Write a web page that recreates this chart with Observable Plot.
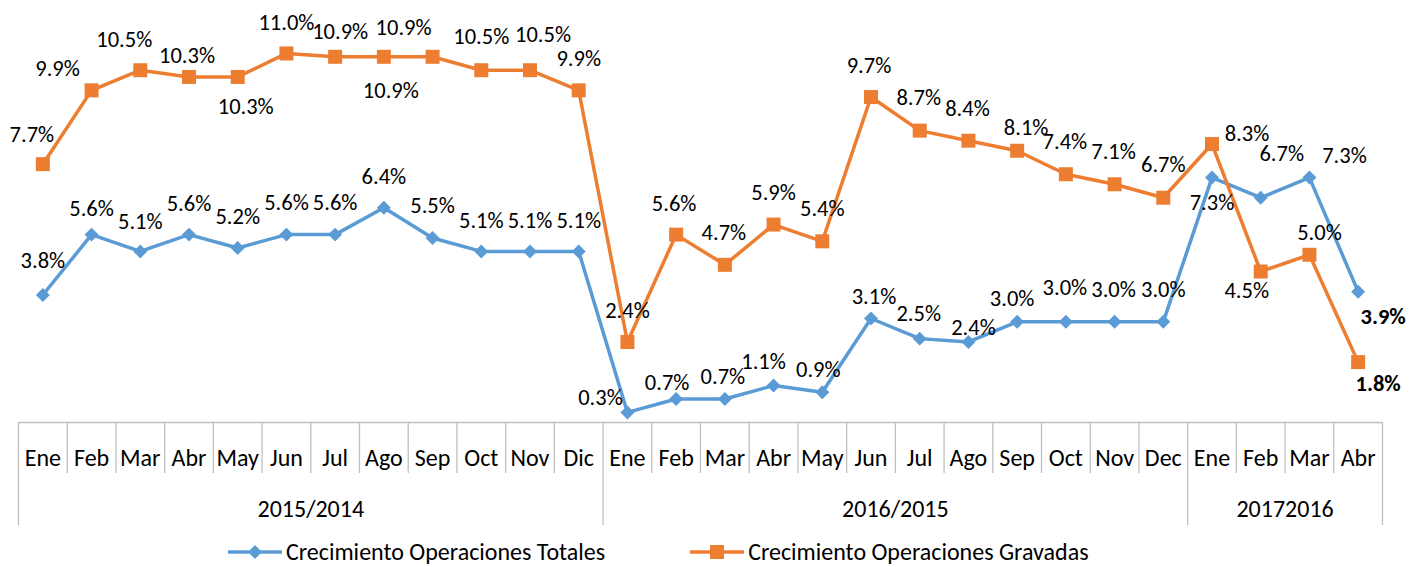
<!DOCTYPE html>
<html>
<head>
<meta charset="utf-8">
<script src="https://cdn.jsdelivr.net/npm/d3@7"></script>
<script src="https://cdn.jsdelivr.net/npm/@observablehq/plot@0.6"></script>
<style>
  html, body { margin: 0; padding: 0; background: #fff; }
  body { font-family: Carlito, Lato, sans-serif; color: #000; width: 1424px; height: 567px; overflow: hidden; }
  #legend { display: flex; align-items: center; height: 31px; padding-top: 6px; padding-left: 228px; font-size: 24px; }
  #legend .item { display: flex; align-items: center; }
  #legend .item svg { margin-right: 4px; }
  #legend .gap { width: 85px; }
</style>
</head>
<body>
<div id="chart"></div>
<div id="legend"></div>
<script>
// ---- data ----
const months = ["Ene","Feb","Mar","Abr","May","Jun","Jul","Ago","Sep","Oct","Nov","Dic",
                "Ene","Feb","Mar","Abr","May","Jun","Jul","Ago","Sep","Oct","Nov","Dec",
                "Ene","Feb","Mar","Abr"];
const groups = ["2015/2014", "2016/2015", "20172016"];
const groupSizes = [12, 12, 4];
const seriesNames = ["Crecimiento Operaciones Totales", "Crecimiento Operaciones Gravadas"];
const totales  = [3.8, 5.6, 5.1, 5.6, 5.2, 5.6, 5.6, 6.4, 5.5, 5.1, 5.1, 5.1,
                  0.3, 0.7, 0.7, 1.1, 0.9, 3.1, 2.5, 2.4, 3.0, 3.0, 3.0, 3.0,
                  7.3, 6.7, 7.3, 3.9];
const gravadas = [7.7, 9.9, 10.5, 10.3, 10.3, 11.0, 10.9, 10.9, 10.9, 10.5, 10.5, 9.9,
                  2.4, 5.6, 4.7, 5.9, 5.4, 9.7, 8.7, 8.4, 8.1, 7.4, 7.1, 6.7,
                  8.3, 4.5, 5.0, 1.8];

// ---- label nudges (pixels) ----
const totNudgeX = [0,0,0,0,0,0,0,0,0,0,0,0, -27,-9,-2,-10,-4,3,-1,5,-5,-1,-1,0, 0,21,35,25];
const totNudgeY = [-34,-26,-30,-31,-31,-32,-32,-31,-32,-31,-31,-31, -15,-16,-22,-24,-23,-22,-25,-14,-23,-34,-32,-32, 25,-44,-22,25];
const gravNudgeX = [-11,-34,-16,-2,8,0,5,7,-29,0,13,0, 0,-2,-1,0,0,-2,-1,-1,9,-1,-1,0, 35,-14,10,20];
const gravNudgeY = [-29,-22,-30,-21,30,-31,-25,34,-29,-33,-35,-32, -31,-31,-32,-32,-33,-31,-33,-32,-23,-32,-32,-33, -10,19,-22,22];

// ---- style / layout ----
const blue = "#5B9BD5", orange = "#ED7D31", gridGrey = "#bfbfbf";
const W = 1424, H = 530, mTop = 19.4, mBottom = 108, mLeft = 18, mRight = 42;
const plotH = H - mTop - mBottom;
const labelSize = 22.5, axisSize = 24;

const rows = months.map((m, i) => ({i, month: m, tot: totales[i], grav: gravadas[i]}));

// boundaries
const starts = [0];
groupSizes.forEach((s, k) => starts.push(starts[k] + s));
const groupBounds = starts.map(b => b - 0.5);
const monthBounds = d3.range(1, months.length).filter(b => !starts.includes(b)).map(b => b - 0.5);
const groupRows = groups.map((g, k) => ({g, c: starts[k] + (groupSizes[k] - 1) / 2}));

const fmt = v => v.toFixed(1) + "%";
const labelMarks = [];
rows.forEach((r, i) => {
  const bold = i === rows.length - 1 ? "bold" : "normal";
  labelMarks.push(Plot.text([r], {x: "i", y: "tot", text: d => fmt(d.tot), dx: totNudgeX[i], dy: totNudgeY[i],
    fontSize: labelSize, fontWeight: bold, fill: "#000"}));
  labelMarks.push(Plot.text([r], {x: "i", y: "grav", text: d => fmt(d.grav), dx: gravNudgeX[i], dy: gravNudgeY[i],
    fontSize: labelSize, fontWeight: bold, fill: "#000"}));
});

const chart = Plot.plot({
  width: W, height: H,
  marginTop: mTop, marginBottom: mBottom, marginLeft: mLeft, marginRight: mRight,
  style: {fontFamily: "Carlito, Lato, sans-serif", background: "#fff", overflow: "visible"},
  x: {type: "linear", domain: [-0.5, months.length - 0.5], axis: null},
  y: {domain: [0, 12], axis: null},
  marks: [
    Plot.ruleY([0], {stroke: gridGrey, strokeWidth: 1.3}),
    Plot.ruleX(monthBounds, {x: d => d, insetTop: plotH, insetBottom: -51, stroke: gridGrey, strokeWidth: 1.3}),
    Plot.ruleX(groupBounds, {x: d => d, insetTop: plotH, insetBottom: -103, stroke: gridGrey, strokeWidth: 1.3}),
    Plot.text(rows, {x: "i", text: "month", frameAnchor: "bottom", lineAnchor: "middle", dy: 36, fontSize: axisSize, fill: "#000"}),
    Plot.text(groupRows, {x: "c", text: "g", frameAnchor: "bottom", lineAnchor: "middle", dy: 87, fontSize: axisSize, fill: "#000"}),
    Plot.line(rows, {x: "i", y: "tot", stroke: blue, strokeWidth: 3.5}),
    Plot.dot(rows, {x: "i", y: "tot", symbol: "diamond2", r: 6.3, fill: blue, stroke: "none"}),
    Plot.line(rows, {x: "i", y: "grav", stroke: orange, strokeWidth: 3.5}),
    Plot.dot(rows, {x: "i", y: "grav", symbol: "square", r: 7.9, fill: orange, stroke: "none"}),
    ...labelMarks
  ]
});
document.getElementById("chart").appendChild(chart);

// ---- legend ----
const legend = document.getElementById("legend");
function swatch(color, shape) {
  const marker = shape === "diamond"
    ? `<path d="M27,1 L34,8 L27,15 L20,8 Z" fill="${color}"/>`
    : `<rect x="20" y="1" width="14" height="14" fill="${color}"/>`;
  return `<svg width="54" height="16" viewBox="0 0 54 16"><line x1="0" y1="8" x2="54" y2="8" stroke="${color}" stroke-width="3.5"/>${marker}</svg>`;
}
legend.innerHTML =
  `<div class="item">${swatch(blue, "diamond")}<span>${seriesNames[0]}</span></div>` +
  `<div class="gap"></div>` +
  `<div class="item">${swatch(orange, "square")}<span>${seriesNames[1]}</span></div>`;
</script>
</body>
</html>
